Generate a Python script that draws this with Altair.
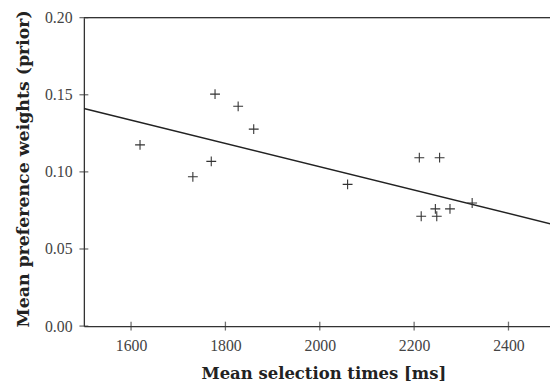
import altair as alt
import pandas as pd

# Scatter data
sel_time = [1619, 1731, 1770, 1778, 1827, 1860, 2059, 2211, 2254, 2215, 2248, 2245, 2276, 2323]
pref_w = [0.1175, 0.0968, 0.1068, 0.1504, 0.1425, 0.1277, 0.0919, 0.1092, 0.1092,
          0.0712, 0.0712, 0.0760, 0.0760, 0.0798]

# Fitted line endpoints
line_x = [1500, 2500]
line_y = [0.1411, 0.0655]

x_ticks = [1600, 1800, 2000, 2200, 2400]
y_ticks = [0.00, 0.05, 0.10, 0.15, 0.20]

pts = pd.DataFrame({"x": sel_time, "y": pref_w})
fit = pd.DataFrame({"x": line_x, "y": line_y})
xt = pd.DataFrame({"x": x_ticks})
yt = pd.DataFrame({"y": y_ticks})

FONT = "Liberation Serif"
TFONT = "DejaVu Serif"
xscale = alt.Scale(domain=[1500, 2488], nice=False, zero=False)
yscale = alt.Scale(domain=[0, 0.2], nice=False)

xaxis = alt.Axis(values=x_ticks, format="d", ticks=False, tickSize=0, grid=False,
                 labelPadding=12, labelFontSize=16, labelFont=FONT, labelColor="#444",
                 domainColor="#333", domainWidth=1.3,
                 title="Mean selection times [ms]", titleFont=TFONT, titleFontSize=16.7,
                 titleFontWeight="bold", titleColor="#222", titleBaseline="alphabetic",
                 titleY=53, titleX=243)
yaxis = alt.Axis(values=y_ticks, format=".2f", ticks=False, tickSize=0, grid=False,
                 labelPadding=12, labelFontSize=16, labelFont=FONT, labelColor="#444",
                 domainColor="#333", domainWidth=1.3,
                 title="Mean preference weights (prior)", titleFont=TFONT, titleFontSize=17.6,
                 titleFontWeight="bold", titleColor="#222", titleX=-56, titleY=153,
                 titleBaseline="alphabetic")

points = alt.Chart(pts).mark_point(
    shape="M-1,0H1M0,-1V1", size=100, filled=False, color="#333", strokeWidth=1.1, opacity=1
).encode(
    x=alt.X("x:Q", scale=xscale, axis=xaxis),
    y=alt.Y("y:Q", scale=yscale, axis=yaxis),
)

line = alt.Chart(fit).mark_line(color="#222", strokeWidth=1.5, clip=True).encode(
    x="x:Q", y="y:Q"
)

top = alt.Chart(pd.DataFrame({"y": [0.2]})).mark_rule(color="#333", strokeWidth=1.3).encode(
    y="y:Q"
)

xticks = alt.Chart(xt).mark_tick(orient="vertical", size=9, thickness=1.3, color="#333").encode(
    x="x:Q", y=alt.datum(0)
)
yticks = alt.Chart(yt).mark_tick(orient="horizontal", size=9, thickness=1.3, color="#333").encode(
    y="y:Q", x=alt.datum(1500)
)

chart = alt.layer(line, top, xticks, yticks, points).properties(
    width=473, height=313,
    autosize=alt.AutoSizeParams(type="none"),
    padding={"left": 77, "top": 7, "right": 0, "bottom": 58},
).configure_view(stroke=None).configure(background="white")

chart.save("out.html", embed_options={"renderer": "svg", "actions": False})
